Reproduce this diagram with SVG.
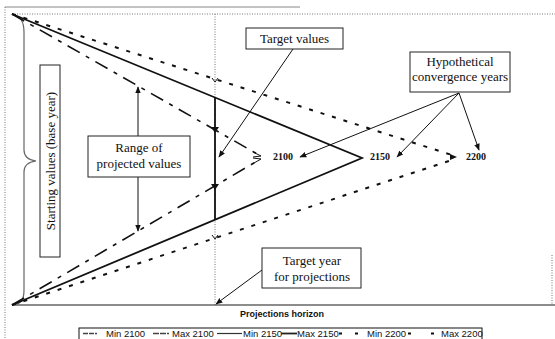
<svg xmlns="http://www.w3.org/2000/svg" width="555" height="339" viewBox="0 0 555 339">
<style>
.box{fill:#fff;stroke:#222;stroke-width:1}
.t{font-family:"Liberation Serif",serif;font-size:13px;fill:#111}
.yr{font-family:"Liberation Serif",serif;font-size:10px;font-weight:bold;fill:#111}
.lg{font-family:"Liberation Sans",Arial,sans-serif;font-size:9.5px;fill:#111}
.ax{font-family:"Liberation Sans",Arial,sans-serif;font-size:9px;font-weight:bold;fill:#111}
.l2100{fill:none;stroke:#111;stroke-width:1.6;stroke-dasharray:14 7 4 7}
.l2150{fill:none;stroke:#111;stroke-width:1.8}
.l2200{fill:none;stroke:#111;stroke-width:2;stroke-dasharray:4 8}
.arr{fill:none;stroke:#111;stroke-width:1;marker-end:url(#ah)}
.frame{fill:none;stroke:#888;stroke-width:1}
.dot{fill:none;stroke:#777;stroke-width:1;stroke-dasharray:1 1.5}
</style>
<defs>
<marker id="ah" viewBox="0 0 10 10" refX="9" refY="5" markerWidth="7" markerHeight="7" orient="auto" markerUnits="userSpaceOnUse">
<path d="M0,1 L10,5 L0,9 Z" fill="#111"/>
</marker>
</defs>
<g id="frame">
<line class="frame" x1="5" y1="7" x2="300" y2="7"/>
<line class="dot" x1="5" y1="7" x2="5" y2="339"/>
<line class="dot" x1="12" y1="14" x2="555" y2="14" stroke="#444"/>
<line class="dot" x1="215" y1="14" x2="215" y2="305"/>
<line class="dot" x1="552" y1="255" x2="552" y2="305"/>
<line x1="12" y1="305" x2="555" y2="305" stroke="#666" stroke-width="1.5"/>
<path d="M13,15 C21,16 24,22 24,32 L24,150 C24,157 28,160 36,161 C28,162 24,165 24,172 L24,290 C24,300 21,304 13,305" fill="none" stroke="#666" stroke-width="1.2"/>
</g>
<g id="connectors">
<path class="l2100" d="M12,14 L259,155"/>
<path class="l2100" d="M12,305 L259,160"/>
<path d="M253,152 L261,156 L253,157" fill="none" stroke="#111" stroke-width="1"/>
<path d="M253,158 L261,159 L254,163" fill="none" stroke="#111" stroke-width="1"/>
<path class="l2150" d="M12,14 L362,158 L12,305"/>
<path class="l2200" d="M12,14 L455,156"/>
<path class="l2200" d="M12,305 L455,159"/>
<path d="M450,154 L457,157 L450,160 Z" fill="#111"/>
<line x1="215" y1="97" x2="215" y2="220" stroke="#111" stroke-width="1.8"/>
<path d="M212,78 L215,82 L218,78" fill="none" stroke="#111" stroke-width="1"/>
<path d="M211,127 L215,133 L219,127 Z" fill="#111"/>
<path d="M211,184 L215,190 L219,184 Z" fill="#111"/>
<path d="M212,235 L215,239 L218,235" fill="none" stroke="#111" stroke-width="1"/>
<line class="arr" x1="293" y1="49" x2="219" y2="157"/>
<line class="arr" x1="138" y1="136" x2="138" y2="87"/>
<line class="arr" x1="138" y1="177" x2="138" y2="231"/>
<line class="arr" x1="459" y1="93" x2="300" y2="157"/>
<line class="arr" x1="459" y1="93" x2="397" y2="157"/>
<line class="arr" x1="459" y1="93" x2="479" y2="150"/>
<line class="arr" x1="262" y1="270" x2="216" y2="304"/>
</g>
<g id="starting-values">
<rect class="box" x="40" y="65" width="20" height="192"/>
<text class="t" transform="translate(54.5,161) rotate(-90)" text-anchor="middle">Starting values (base year)</text>
</g>
<g id="target-values">
<rect class="box" x="246" y="28" width="97" height="21"/>
<text class="t" x="294.5" y="43" text-anchor="middle">Target values</text>
</g>
<g id="range">
<rect class="box" x="88" y="136" width="102" height="41"/>
<text class="t" x="139" y="152" text-anchor="middle">Range of</text>
<text class="t" x="139" y="168" text-anchor="middle">projected values</text>
</g>
<g id="hypothetical">
<rect class="box" x="410" y="52" width="100" height="40" stroke-width="1.2"/>
<text class="t" x="460" y="66" text-anchor="middle" font-size="12.5">Hypothetical</text>
<text class="t" x="460" y="81" text-anchor="middle" font-size="12.5">convergence years</text>
</g>
<g id="target-year">
<rect class="box" x="262" y="248" width="99" height="40"/>
<text class="t" x="312" y="265" text-anchor="middle">Target year</text>
<text class="t" x="312" y="281" text-anchor="middle">for projections</text>
</g>
<g id="year-labels">
<text class="yr" x="273" y="160">2100</text>
<text class="yr" x="370" y="160">2150</text>
<text class="yr" x="466" y="160">2200</text>
</g>
<g id="axis-title">
<text class="ax" x="282" y="317" text-anchor="middle">Projections horizon</text>
</g>
<g id="legend">
<rect x="79" y="328" width="403" height="15" fill="#fff" stroke="#111" stroke-width="1"/>
<line x1="83" y1="333.5" x2="97" y2="333.5" stroke="#444" stroke-width="1.6" stroke-dasharray="5 1"/>
<text class="lg" x="106" y="337">Min 2100</text>
<line x1="153" y1="333.5" x2="169" y2="333.5" stroke="#444" stroke-width="1.6" stroke-dasharray="6 1"/>
<text class="lg" x="172" y="337">Max 2100</text>
<line x1="217" y1="333.5" x2="242" y2="333.5" stroke="#333" stroke-width="1.2"/>
<text class="lg" x="243" y="337">Min 2150</text>
<line x1="281" y1="333.5" x2="297" y2="333.5" stroke="#222" stroke-width="1.8"/>
<text class="lg" x="297" y="337">Max 2150</text>
<line x1="339" y1="333.5" x2="358" y2="333.5" stroke="#111" stroke-width="1.8" stroke-dasharray="3 13"/>
<text class="lg" x="367" y="337">Min 2200</text>
<line x1="408" y1="333.5" x2="434" y2="333.5" stroke="#111" stroke-width="1.8" stroke-dasharray="3 20"/>
<text class="lg" x="441" y="337">Max 2200</text>
</g>
</svg>
